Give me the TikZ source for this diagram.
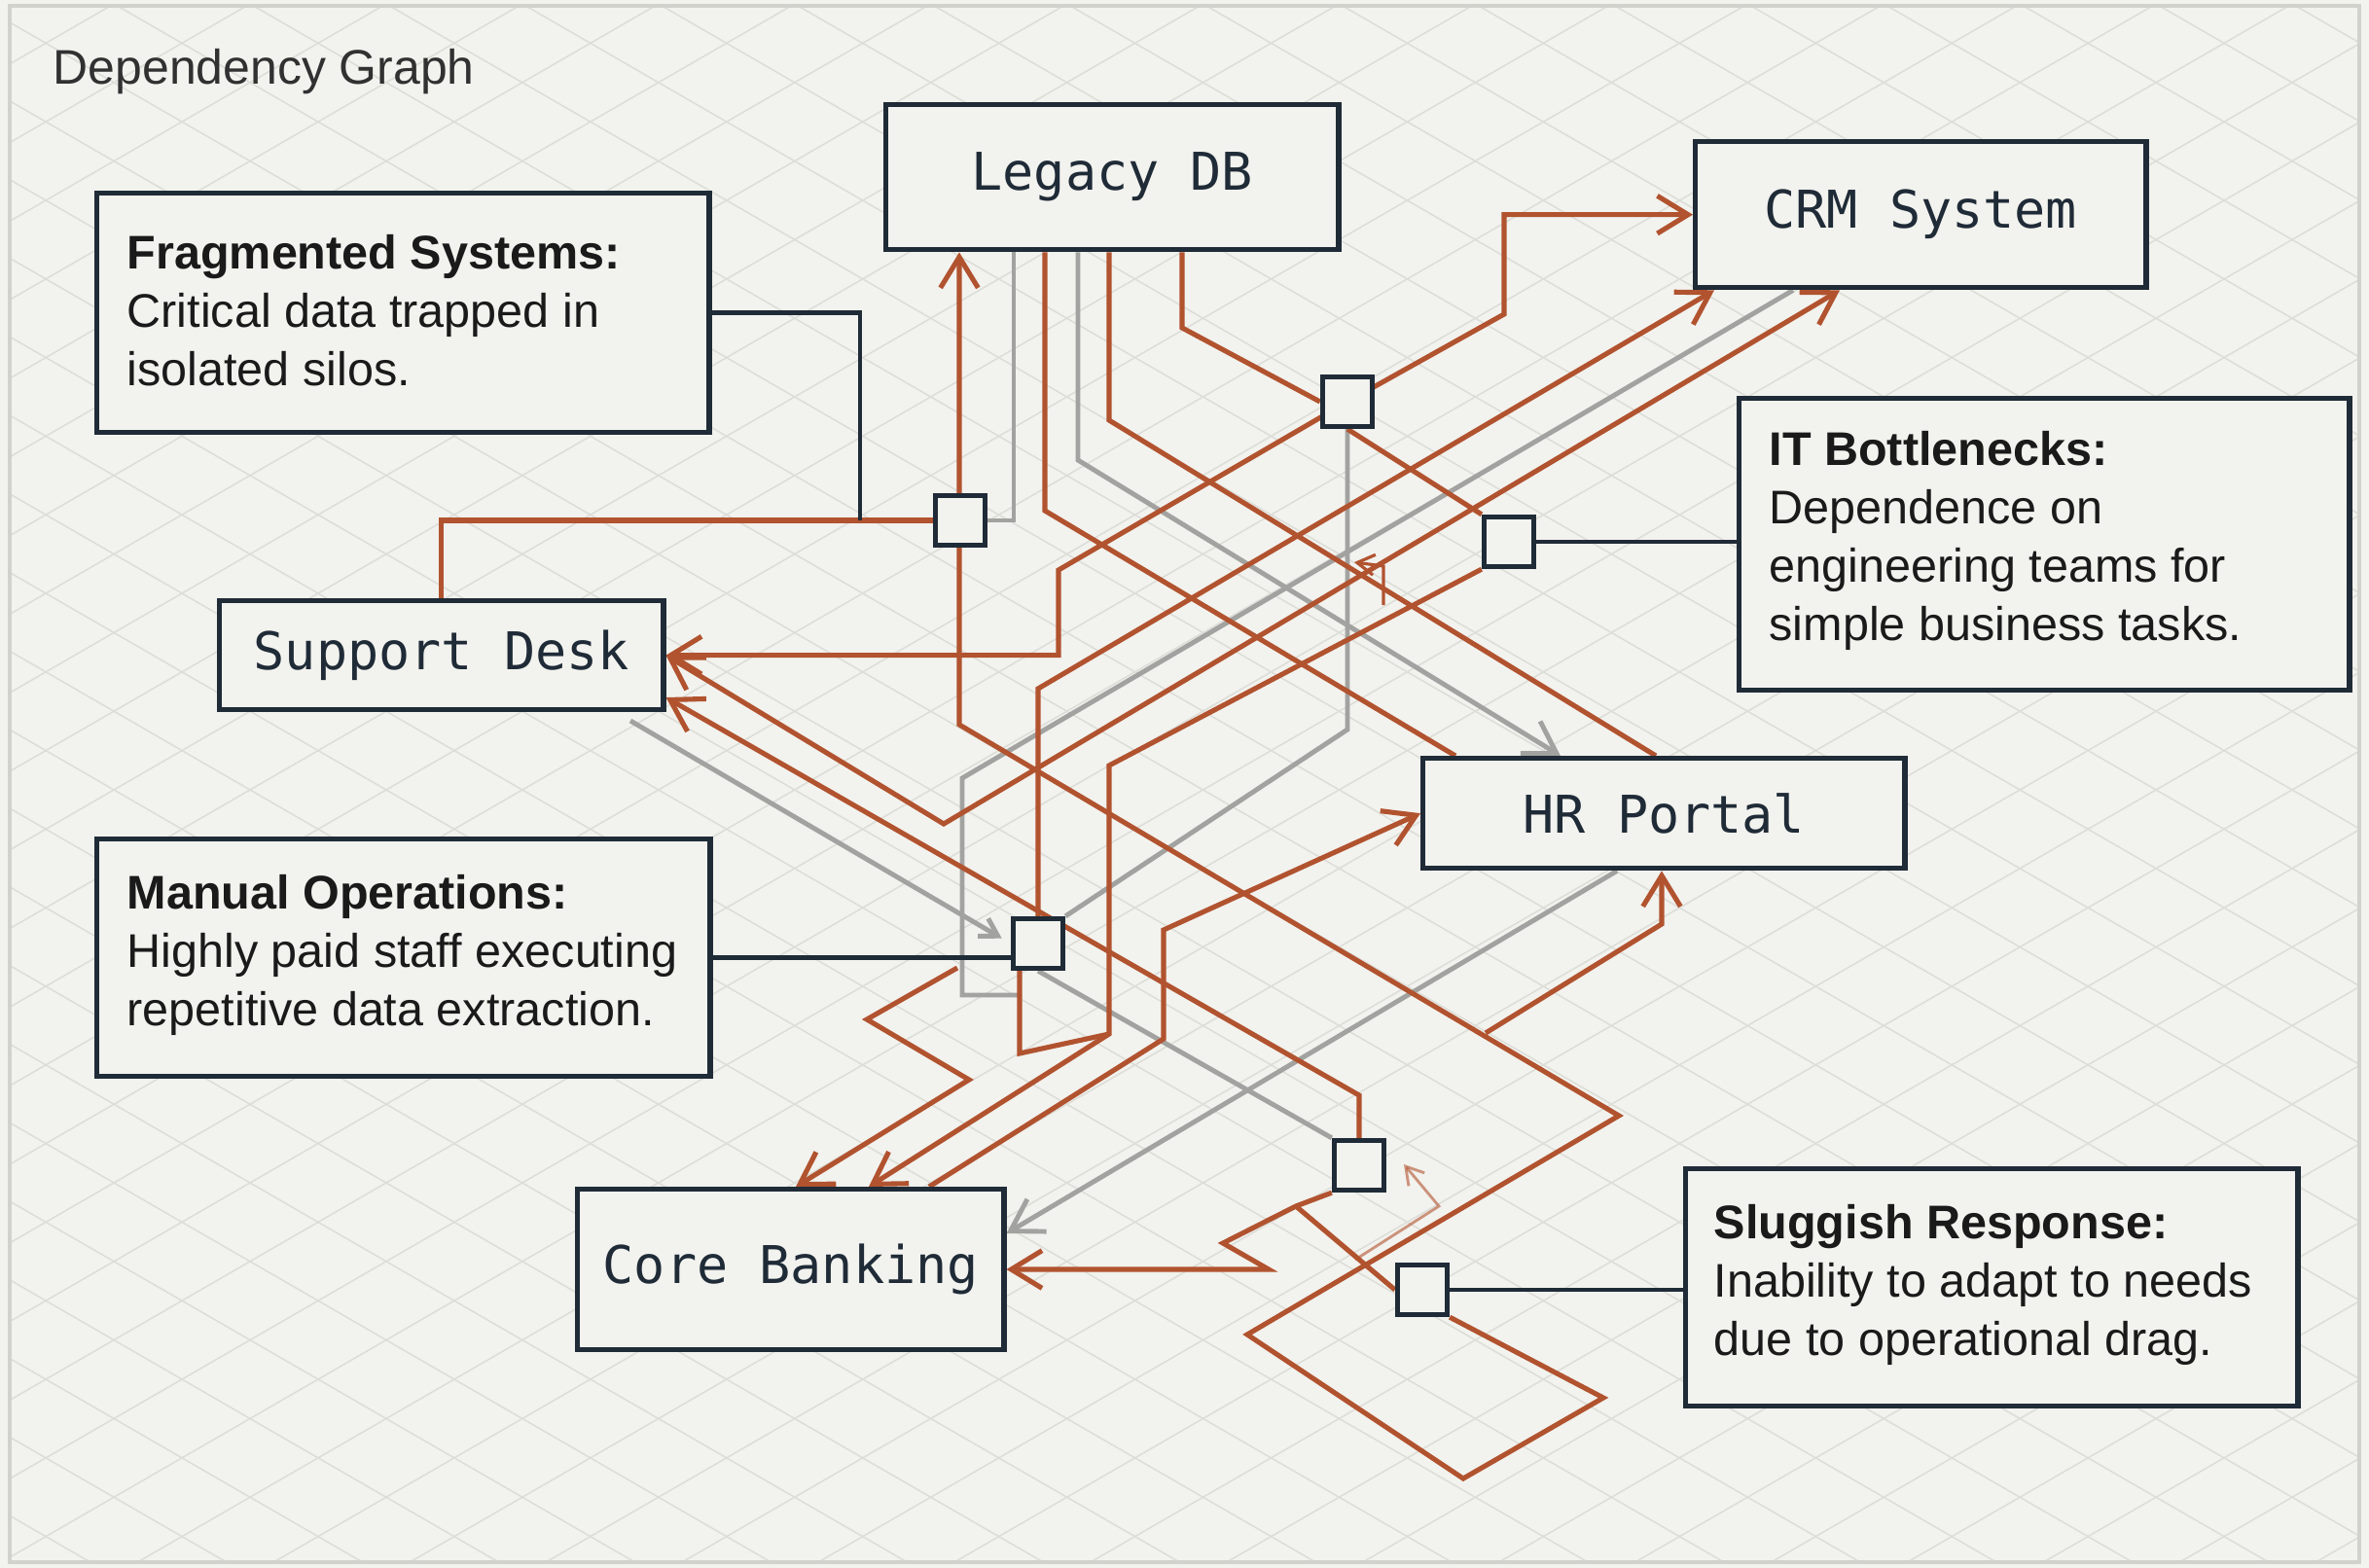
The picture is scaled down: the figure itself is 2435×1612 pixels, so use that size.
\documentclass[tikz,border=0pt]{standalone}
\usepackage{fontspec}
\setmainfont{Liberation Sans}
\newfontfamily\monof{DejaVu Sans Mono}
\usetikzlibrary{arrows.meta}
\definecolor{bgc}{HTML}{F2F2EE}
\definecolor{gridc}{HTML}{DEDED9}
\definecolor{framec}{HTML}{D2D2CD}
\definecolor{navy}{HTML}{1F2B37}
\definecolor{rust}{HTML}{B1532F}
\definecolor{greyl}{HTML}{A2A2A0}
\definecolor{ink}{HTML}{1A1A1A}
\pgfdeclarelayer{gridlayer}
\pgfdeclarelayer{wirelayer}
\pgfsetlayers{gridlayer,wirelayer,main}
\begin{document}
\begin{tikzpicture}[x=0.01cm,y=-0.01cm,
  sysbox/.style={draw=navy,line width=1.5pt,fill=bgc,inner sep=0pt,anchor=north west,
    font=\monof\fontsize{15.2}{18}\selectfont,text=navy},
  callbox/.style={draw=navy,line width=1.5pt,fill=bgc,inner sep=0pt,anchor=north west},
  calltext/.style={anchor=west,align=left,inner sep=0pt,text=ink,
    font=\fontsize{13.8}{17}\selectfont},
  junc/.style={draw=navy,line width=1.5pt,fill=bgc,minimum size=0.51cm,inner sep=0pt},
  owire/.style={draw=rust,line width=1.45pt},
  gwire/.style={draw=greyl,line width=1.4pt},
  lead/.style={draw=navy,line width=1.4pt},
  tip/.style={-{Straight Barb[length=9pt,width=11pt]}},
  smalltip/.style={-{Straight Barb[length=5pt,width=6pt]}},
  tipboth/.style={{Straight Barb[length=9pt,width=11pt]}-{Straight Barb[length=9pt,width=11pt]}},
  gridline/.style={draw=gridc,line width=0.45pt}
]
\useasboundingbox (0,0) rectangle (2435,1612);

% ---------- nodes ----------
\node[anchor=base west,inner sep=0pt,text=ink!90,font=\fontsize{14.2}{17}\selectfont] (title) at (54,87) {Dependency Graph};

\node[sysbox,minimum width=4.65cm,minimum height=1.49cm] (legacy) at (908,105) {Legacy DB};
\node[sysbox,minimum width=4.63cm,minimum height=1.50cm] (crm) at (1740,143) {CRM System};
\node[sysbox,minimum width=4.56cm,minimum height=1.12cm] (support) at (223,615) {Support Desk};
\node[sysbox,minimum width=4.95cm,minimum height=1.13cm] (hr) at (1460,777) {HR Portal};
\node[sysbox,minimum width=4.38cm,minimum height=1.65cm] (core) at (591,1220) {Core Banking};

\node[callbox,minimum width=6.29cm,minimum height=2.46cm] (frag) at (97,196) {};
\node[calltext] (fragt) at (130,319) {\textbf{Fragmented Systems:}\\Critical data trapped in\\isolated silos.};
\node[callbox,minimum width=6.27cm,minimum height=3.00cm] (itb) at (1785,407) {};
\node[calltext] (itbt) at (1818,556) {\textbf{IT Bottlenecks:}\\Dependence on\\engineering teams for\\simple business tasks.};
\node[callbox,minimum width=6.30cm,minimum height=2.44cm] (manual) at (97,860) {};
\node[calltext] (manualt) at (130,982) {\textbf{Manual Operations:}\\Highly paid staff executing\\repetitive data extraction.};
\node[callbox,minimum width=6.29cm,minimum height=2.44cm] (slug) at (1730,1199) {};
\node[calltext] (slugt) at (1761,1321) {\textbf{Sluggish Response:}\\Inability to adapt to needs\\due to operational drag.};

\node[junc] (s1) at (987,535) {};
\node[junc] (s2) at (1385,413) {};
\node[junc] (s3) at (1551,557) {};
\node[junc] (s4) at (1067,970) {};
\node[junc] (s5) at (1397,1198) {};
\node[junc] (s6) at (1462,1326) {};

\coordinate (gstub) at (1050,1023);
\coordinate (gsd) at (648,741);
\coordinate (zz) at (1332,1240);
\coordinate (hrjoin) at (1527,1062);
\coordinate (odda) at (1422,622);
\coordinate (oddb) at (1393,1295);
\coordinate (zstart) at (984,995);

% ---------- background + grid ----------
\begin{pgfonlayer}{gridlayer}
  \fill[bgc] (0,0) rectangle (2435,1612);
  \begin{scope}
    \clip (10,6) rectangle (2425,1606);
    \foreach \k in {-32,...,6}
      \draw[gridline] (0,{1148.4+80.8*\k}) -- (2435,{1148.4+80.8*\k+1406});
    \foreach \k in {-16,...,22}
      \draw[gridline] (0,{1283.6+80.8*\k}) -- (2435,{1283.6+80.8*\k-1406});
  \end{scope}
  \draw[framec,line width=1.2pt] (10,6) rectangle (2425,1606);
\end{pgfonlayer}

% ---------- connectors ----------
\begin{pgfonlayer}{wirelayer}
  % grey
  \draw[gwire] (1042,0 |- legacy.south) -- (1042,535) -- (s1.east);
  \draw[gwire,tip] (1108,0 |- legacy.south) -- (1108,473) -- (1604,0 |- hr.north);
  \draw[gwire] (s2.south) -- (1385,750) -- (s4.north east);
  \draw[gwire] (1843,0 |- crm.south) -- (989,800) -- (989,1023) -- (gstub);
  \draw[gwire,smalltip,shorten >=3pt] (gsd) -- (s4.west);
  \draw[gwire] (s4.south) -- (s5.north west);
  \draw[gwire,tip] (1662,0 |- hr.south) -- (core.east |- 0,1268);

  % orange
  \draw[owire] (support.north) |- (s1.west);
  \draw[owire,tip] (s6.south east) -- (1648,1437) -- (1504,1520) -- (1282,1372)
      -- (1664,1147) -- (986,745) -- (986,0 |- legacy.south);
  \draw[owire] (1074,0 |- legacy.south) -- (1074,525) -- (1496,0 |- hr.north);
  \draw[owire] (1140,0 |- legacy.south) -- (1140,432) -- (1702,0 |- hr.north);
  \draw[owire] (1215,0 |- legacy.south) -- (1215,337) -- (s2.west);
  \draw[owire] (s2.south) -- (s3.north west);
  \draw[owire,tip] (s2.center) -- (1546,323) |- (crm.west);
  \draw[owire,tip] (s2.center) -- (1088,586) |- (support.east);
  \draw[owire,tipboth] (support.east) -- (970,847) -- (1891,0 |- crm.south);
  \draw[owire,tip] (s4.north) -- (1067,708) -- (1762,0 |- crm.south);
  \draw[owire,tip] (s3.south west) -- (1140,787) -- (1140,1063) -- (893,0 |- core.north);
  \draw[owire] (1048,0 |- s4.south) -- (1048,1083) -- (1140,1063);
  \draw[owire,tip] (s5.north) -- (1397,1126) -- (support.east |- 0,717);
  \draw[owire,tip] (s5.south west) -- (1332,1240) -- (1257,1278) -- (1304,1305) -- (core.east |- 0,1305);
  \draw[owire] (zz) -- (s6.west);
  \draw[owire,tip] (hrjoin) -- (1708,950) -- (1708,0 |- hr.south);
  \draw[owire,tip] (zstart) -- (891,1048) -- (996,1110) -- (818,0 |- core.north);
  \draw[owire,tip] (955,0 |- core.north) -- (1196,1068) -- (1196,956) -- (hr.west);
  \draw[owire,line width=0.9pt,smalltip] (odda) -- (1422,582) -- (1392,578);
  \draw[owire,line width=0.8pt,opacity=0.6,smalltip] (oddb) -- (1479,1240) -- (1443,1197);

  % navy leads
  \draw[lead] (frag.east) -| (884,535);
  \draw[lead] (s3.east) -- (s3.east -| itb.west);
  \draw[lead] (manual.east) -- (manual.east -| s4.west);
  \draw[lead] (s6.east) -- (s6.east -| slug.west);
\end{pgfonlayer}
\end{tikzpicture}
\end{document}
